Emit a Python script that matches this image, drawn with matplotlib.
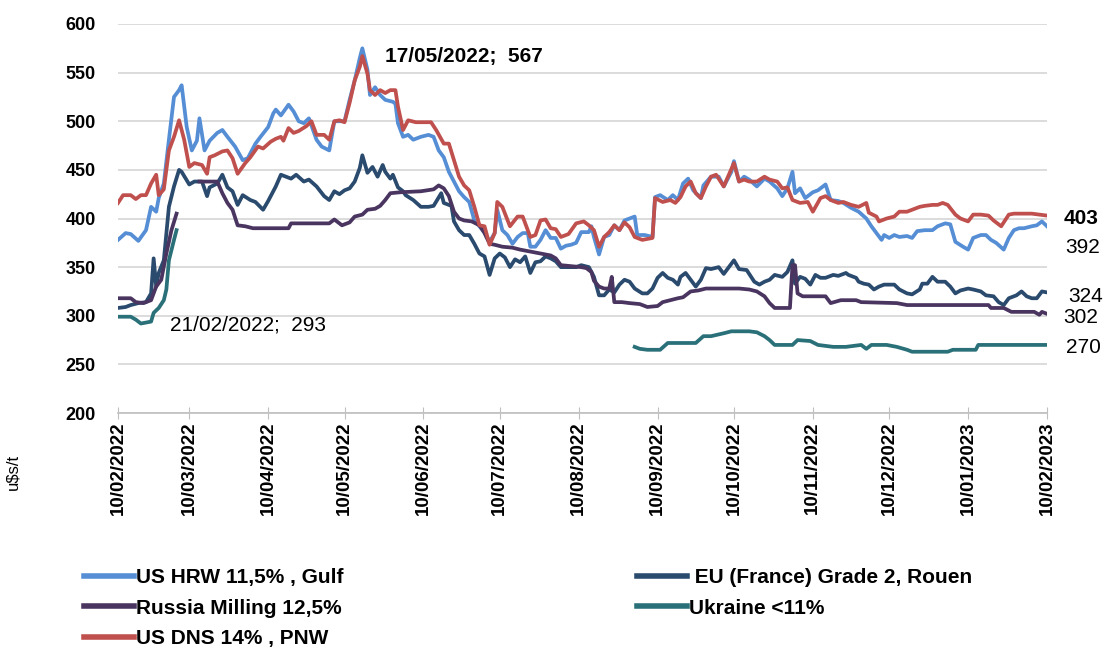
import matplotlib
matplotlib.use("Agg")
import matplotlib.pyplot as plt
import numpy as np
import pandas as pd

plt.rcParams['font.family'] = ['Liberation Sans', 'DejaVu Sans']

# ---- data (u$s/t) ----
hrw_dates = ["2022-02-10", "2022-02-13", "2022-02-15", "2022-02-18", "2022-02-21", "2022-02-23", "2022-02-25", "2022-02-26",
             "2022-02-28", "2022-03-02", "2022-03-04", "2022-03-06", "2022-03-07", "2022-03-09", "2022-03-11", "2022-03-13",
             "2022-03-14", "2022-03-16", "2022-03-18", "2022-03-21", "2022-03-23", "2022-03-25", "2022-03-28", "2022-03-31",
             "2022-04-02", "2022-04-05", "2022-04-07", "2022-04-10", "2022-04-12", "2022-04-13", "2022-04-15", "2022-04-18",
             "2022-04-20", "2022-04-22", "2022-04-24", "2022-04-26", "2022-04-29", "2022-05-01", "2022-05-04", "2022-05-06",
             "2022-05-10", "2022-05-12", "2022-05-14", "2022-05-16", "2022-05-17", "2022-05-19", "2022-05-20", "2022-05-22",
             "2022-05-24", "2022-05-26", "2022-05-29", "2022-05-30", "2022-05-31", "2022-06-02", "2022-06-04", "2022-06-06",
             "2022-06-09", "2022-06-12", "2022-06-14", "2022-06-16", "2022-06-18", "2022-06-20", "2022-06-22", "2022-06-24",
             "2022-06-26", "2022-06-28", "2022-06-30", "2022-07-02", "2022-07-04", "2022-07-06", "2022-07-08", "2022-07-09",
             "2022-07-11", "2022-07-13", "2022-07-15", "2022-07-17", "2022-07-19", "2022-07-21", "2022-07-22", "2022-07-24",
             "2022-07-26", "2022-07-28", "2022-07-30", "2022-08-01", "2022-08-03", "2022-08-05", "2022-08-07", "2022-08-09",
             "2022-08-11", "2022-08-14", "2022-08-15", "2022-08-16", "2022-08-18", "2022-08-20", "2022-08-22", "2022-08-24",
             "2022-08-26", "2022-08-28", "2022-08-30", "2022-09-01", "2022-09-02", "2022-09-05", "2022-09-08", "2022-09-09",
             "2022-09-11", "2022-09-14", "2022-09-16", "2022-09-18", "2022-09-20", "2022-09-22", "2022-09-24", "2022-09-27",
             "2022-09-28", "2022-10-01", "2022-10-04", "2022-10-06", "2022-10-09", "2022-10-10", "2022-10-12", "2022-10-14",
             "2022-10-16", "2022-10-19", "2022-10-22", "2022-10-24", "2022-10-27", "2022-10-29", "2022-10-31", "2022-11-02",
             "2022-11-03", "2022-11-05", "2022-11-07", "2022-11-10", "2022-11-12", "2022-11-15", "2022-11-17", "2022-11-20",
             "2022-11-22", "2022-11-25", "2022-11-28", "2022-12-01", "2022-12-03", "2022-12-05", "2022-12-07", "2022-12-08",
             "2022-12-10", "2022-12-12", "2022-12-14", "2022-12-17", "2022-12-19", "2022-12-21", "2022-12-24", "2022-12-27",
             "2022-12-29", "2023-01-01", "2023-01-03", "2023-01-05", "2023-01-08", "2023-01-10", "2023-01-12", "2023-01-15",
             "2023-01-17", "2023-01-19", "2023-01-21", "2023-01-24", "2023-01-26", "2023-01-28", "2023-01-30", "2023-02-01",
             "2023-02-04", "2023-02-06", "2023-02-08", "2023-02-10"]
hrw_values = [378, 385, 384, 377, 388, 412, 407, 421,
              436, 481, 525, 532, 537, 494, 470, 480,
              503, 470, 480, 488, 491, 484, 474, 460,
              462, 477, 484, 494, 508, 512, 506, 517,
              510, 500, 498, 503, 481, 474, 470, 500,
              500, 522, 542, 565, 575, 553, 527, 535,
              527, 522, 520, 518, 498, 484, 486, 481,
              484, 486, 484, 470, 463, 448, 438, 428,
              422, 417, 398, 392, 386, 376, 385, 409,
              388, 383, 374, 381, 385, 385, 371, 371,
              378, 388, 380, 380, 369, 372, 373, 375,
              386, 386, 392, 381, 363, 381, 383, 393,
              388, 398, 400, 402, 383, 383, 381, 422,
              424, 419, 424, 419, 436, 441, 429, 421,
              434, 443, 443, 433, 448, 459, 438, 443,
              440, 433, 441, 438, 431, 423, 431, 448,
              426, 431, 421, 427, 429, 435, 419, 418,
              416, 411, 407, 400, 392, 385, 378, 383,
              380, 383, 381, 382, 380, 387, 388, 388,
              392, 395, 394, 376, 371, 368, 380, 383,
              383, 378, 375, 368, 380, 388, 390, 390,
              392, 393, 397, 392]

dns_dates = ["2022-02-10", "2022-02-12", "2022-02-15", "2022-02-17", "2022-02-19", "2022-02-21", "2022-02-23", "2022-02-25",
             "2022-02-26", "2022-02-28", "2022-03-02", "2022-03-04", "2022-03-06", "2022-03-08", "2022-03-10", "2022-03-12",
             "2022-03-15", "2022-03-17", "2022-03-18", "2022-03-20", "2022-03-23", "2022-03-25", "2022-03-27", "2022-03-29",
             "2022-04-01", "2022-04-03", "2022-04-06", "2022-04-08", "2022-04-11", "2022-04-13", "2022-04-15", "2022-04-16",
             "2022-04-18", "2022-04-20", "2022-04-22", "2022-04-25", "2022-04-27", "2022-04-29", "2022-05-02", "2022-05-04",
             "2022-05-06", "2022-05-08", "2022-05-10", "2022-05-12", "2022-05-14", "2022-05-16", "2022-05-17", "2022-05-19",
             "2022-05-20", "2022-05-22", "2022-05-24", "2022-05-26", "2022-05-28", "2022-05-30", "2022-05-31", "2022-06-02",
             "2022-06-04", "2022-06-07", "2022-06-11", "2022-06-13", "2022-06-15", "2022-06-18", "2022-06-20", "2022-06-22",
             "2022-06-24", "2022-06-26", "2022-06-28", "2022-06-30", "2022-07-02", "2022-07-04", "2022-07-06", "2022-07-08",
             "2022-07-09", "2022-07-11", "2022-07-14", "2022-07-17", "2022-07-19", "2022-07-22", "2022-07-24", "2022-07-26",
             "2022-07-28", "2022-07-30", "2022-08-01", "2022-08-03", "2022-08-06", "2022-08-09", "2022-08-12", "2022-08-14",
             "2022-08-16", "2022-08-18", "2022-08-20", "2022-08-22", "2022-08-24", "2022-08-26", "2022-08-28", "2022-08-30",
             "2022-09-01", "2022-09-04", "2022-09-08", "2022-09-09", "2022-09-12", "2022-09-15", "2022-09-17", "2022-09-19",
             "2022-09-21", "2022-09-23", "2022-09-25", "2022-09-27", "2022-09-29", "2022-10-01", "2022-10-03", "2022-10-06",
             "2022-10-08", "2022-10-10", "2022-10-12", "2022-10-14", "2022-10-16", "2022-10-19", "2022-10-22", "2022-10-24",
             "2022-10-27", "2022-10-29", "2022-10-31", "2022-11-02", "2022-11-05", "2022-11-08", "2022-11-10", "2022-11-13",
             "2022-11-15", "2022-11-17", "2022-11-20", "2022-11-22", "2022-11-25", "2022-11-28", "2022-12-01", "2022-12-02",
             "2022-12-05", "2022-12-06", "2022-12-09", "2022-12-12", "2022-12-14", "2022-12-17", "2022-12-20", "2022-12-22",
             "2022-12-24", "2022-12-27", "2022-12-29", "2022-12-31", "2023-01-02", "2023-01-05", "2023-01-07", "2023-01-10",
             "2023-01-12", "2023-01-15", "2023-01-18", "2023-01-20", "2023-01-23", "2023-01-26", "2023-01-28", "2023-02-01",
             "2023-02-04", "2023-02-07", "2023-02-10"]
dns_values = [416, 424, 424, 420, 424, 424, 436, 445,
              424, 430, 470, 484, 501, 481, 453, 457,
              455, 446, 463, 465, 469, 470, 462, 446,
              457, 463, 474, 472, 479, 482, 484, 480,
              493, 488, 490, 495, 500, 486, 486, 481,
              500, 501, 499, 519, 542, 556, 567, 549,
              532, 527, 532, 529, 532, 532, 515, 491,
              501, 499, 499, 499, 491, 477, 477, 460,
              443, 434, 429, 412, 393, 392, 373, 385,
              417, 412, 392, 402, 402, 381, 383, 398,
              399, 390, 389, 381, 384, 395, 397, 393,
              388, 371, 381, 386, 393, 388, 396, 391,
              381, 378, 380, 421, 417, 419, 416, 422,
              433, 438, 426, 421, 433, 443, 445, 433,
              445, 457, 438, 440, 438, 438, 443, 440,
              438, 431, 432, 419, 416, 417, 407, 421,
              423, 419, 416, 417, 414, 412, 416, 406,
              402, 397, 400, 402, 407, 407, 410, 412,
              413, 414, 414, 416, 414, 404, 400, 397,
              404, 404, 403, 398, 392, 404, 405, 405,
              405, 404, 403]

eu_dates = ["2022-02-10", "2022-02-13", "2022-02-15", "2022-02-18", "2022-02-21", "2022-02-23", "2022-02-24", "2022-02-25",
            "2022-02-26", "2022-02-28", "2022-03-01", "2022-03-02", "2022-03-04", "2022-03-06", "2022-03-07", "2022-03-10",
            "2022-03-12", "2022-03-15", "2022-03-17", "2022-03-18", "2022-03-21", "2022-03-23", "2022-03-25", "2022-03-27",
            "2022-03-29", "2022-03-31", "2022-04-03", "2022-04-05", "2022-04-08", "2022-04-10", "2022-04-13", "2022-04-15",
            "2022-04-17", "2022-04-19", "2022-04-21", "2022-04-24", "2022-04-26", "2022-04-29", "2022-05-02", "2022-05-04",
            "2022-05-06", "2022-05-08", "2022-05-10", "2022-05-12", "2022-05-14", "2022-05-16", "2022-05-17", "2022-05-19",
            "2022-05-21", "2022-05-23", "2022-05-25", "2022-05-26", "2022-05-28", "2022-05-29", "2022-05-31", "2022-06-02",
            "2022-06-03", "2022-06-06", "2022-06-09", "2022-06-12", "2022-06-14", "2022-06-17", "2022-06-18", "2022-06-21",
            "2022-06-22", "2022-06-24", "2022-06-26", "2022-06-28", "2022-06-30", "2022-07-02", "2022-07-04", "2022-07-06",
            "2022-07-08", "2022-07-10", "2022-07-12", "2022-07-14", "2022-07-16", "2022-07-18", "2022-07-20", "2022-07-22",
            "2022-07-24", "2022-07-26", "2022-07-28", "2022-07-30", "2022-08-01", "2022-08-03", "2022-08-06", "2022-08-09",
            "2022-08-11", "2022-08-14", "2022-08-16", "2022-08-18", "2022-08-20", "2022-08-22", "2022-08-24", "2022-08-26",
            "2022-08-28", "2022-08-30", "2022-09-01", "2022-09-04", "2022-09-06", "2022-09-08", "2022-09-10", "2022-09-12",
            "2022-09-14", "2022-09-16", "2022-09-18", "2022-09-19", "2022-09-21", "2022-09-23", "2022-09-25", "2022-09-27",
            "2022-09-29", "2022-10-01", "2022-10-04", "2022-10-06", "2022-10-08", "2022-10-10", "2022-10-12", "2022-10-15",
            "2022-10-18", "2022-10-20", "2022-10-22", "2022-10-24", "2022-10-26", "2022-10-29", "2022-10-31", "2022-11-02",
            "2022-11-03", "2022-11-05", "2022-11-07", "2022-11-09", "2022-11-11", "2022-11-13", "2022-11-15", "2022-11-18",
            "2022-11-20", "2022-11-23", "2022-11-24", "2022-11-27", "2022-11-28", "2022-11-30", "2022-12-02", "2022-12-04",
            "2022-12-06", "2022-12-08", "2022-12-12", "2022-12-14", "2022-12-17", "2022-12-19", "2022-12-22", "2022-12-23",
            "2022-12-25", "2022-12-27", "2022-12-29", "2023-01-01", "2023-01-03", "2023-01-05", "2023-01-07", "2023-01-10",
            "2023-01-12", "2023-01-15", "2023-01-17", "2023-01-20", "2023-01-22", "2023-01-24", "2023-01-26", "2023-01-29",
            "2023-01-31", "2023-02-02", "2023-02-04", "2023-02-06", "2023-02-08", "2023-02-10"]
eu_values = [308, 309, 311, 313, 314, 323, 359, 330,
             344, 357, 385, 412, 433, 450, 448, 435,
             438, 438, 423, 432, 436, 445, 432, 428,
             414, 424, 419, 417, 409, 418, 433, 445,
             443, 441, 445, 438, 440, 433, 423, 419,
             428, 425, 429, 431, 438, 452, 465, 447,
             453, 443, 455, 448, 441, 445, 432, 428,
             424, 419, 412, 412, 413, 426, 416, 413,
             397, 388, 383, 383, 374, 364, 361, 342,
             359, 364, 360, 350, 358, 355, 361, 344,
             355, 356, 361, 359, 356, 350, 350, 350,
             352, 350, 340, 321, 321, 327, 324, 332,
             337, 335, 328, 323, 323, 328, 339, 344,
             339, 337, 332, 340, 344, 337, 330, 337,
             349, 348, 350, 343, 350, 357, 348, 347,
             335, 332, 335, 337, 342, 340, 345, 357,
             333, 340, 338, 332, 342, 339, 339, 342,
             341, 344, 342, 339, 335, 333, 332, 327,
             330, 332, 332, 327, 323, 322, 327, 333,
             333, 340, 335, 335, 330, 323, 326, 328,
             327, 325, 321, 320, 314, 311, 318, 321,
             325, 320, 318, 318, 325, 324]

# NaN marks the gap where no quotes were published
rus_dates = ["2022-02-10", "2022-02-15", "2022-02-17", "2022-02-20", "2022-02-23", "2022-02-25", "2022-02-27", "2022-03-01",
             "2022-03-03", "2022-03-05", "2022-03-08", "2022-03-14", "2022-03-21", "2022-03-23", "2022-03-25", "2022-03-27",
             "2022-03-29", "2022-04-01", "2022-04-04", "2022-04-18", "2022-04-19", "2022-05-04", "2022-05-06", "2022-05-09",
             "2022-05-12", "2022-05-14", "2022-05-17", "2022-05-19", "2022-05-22", "2022-05-24", "2022-05-26", "2022-05-28",
             "2022-06-01", "2022-06-09", "2022-06-14", "2022-06-16", "2022-06-18", "2022-06-20", "2022-06-22", "2022-06-24",
             "2022-06-26", "2022-06-29", "2022-07-02", "2022-07-04", "2022-07-06", "2022-07-08", "2022-07-11", "2022-07-15",
             "2022-07-18", "2022-07-22", "2022-07-26", "2022-07-30", "2022-08-01", "2022-08-03", "2022-08-07", "2022-08-11",
             "2022-08-13", "2022-08-15", "2022-08-16", "2022-08-18", "2022-08-20", "2022-08-22", "2022-08-23", "2022-08-24",
             "2022-08-27", "2022-08-30", "2022-09-03", "2022-09-06", "2022-09-10", "2022-09-12", "2022-09-15", "2022-09-18",
             "2022-09-20", "2022-09-23", "2022-09-26", "2022-09-29", "2022-10-12", "2022-10-16", "2022-10-19", "2022-10-22",
             "2022-10-24", "2022-10-26", "2022-11-01", "2022-11-02", "2022-11-03", "2022-11-04", "2022-11-06", "2022-11-15",
             "2022-11-17", "2022-11-21", "2022-11-27", "2022-11-29", "2022-12-13", "2022-12-17", "2023-01-18", "2023-01-19",
             "2023-01-24", "2023-01-27", "2023-02-05", "2023-02-07", "2023-02-08", "2023-02-10"]
rus_values = [318, 318, 314, 313, 316, 330, 337, 364,
              388, 405, np.nan, 438, 438, 426, 416, 409,
              393, 392, 390, 390, 395, 395, 399, 393,
              396, 402, 404, 409, 410, 413, 419, 426,
              427, 428, 430, 434, 431, 423, 407, 400,
              398, 397, 393, 385, 374, 373, 371, 370,
              368, 366, 364, 362, 359, 352, 351, 350,
              349, 345, 336, 330, 328, 328, 340, 314,
              314, 313, 312, 309, 310, 314, 316, 318,
              319, 325, 326, 328, 328, 327, 325, 320,
              313, 308, 308, 352, 352, 323, 320, 320,
              313, 316, 316, 314, 313, 311, 311, 308,
              308, 304, 304, 301, 304, 302]

ukr_dates = ["2022-02-10", "2022-02-15", "2022-02-17", "2022-02-19", "2022-02-21", "2022-02-23", "2022-02-24", "2022-02-26",
             "2022-02-28", "2022-03-01", "2022-03-02", "2022-03-04", "2022-03-05", "2022-03-08", "2022-09-01", "2022-09-03",
             "2022-09-06", "2022-09-11", "2022-09-14", "2022-09-25", "2022-09-28", "2022-10-01", "2022-10-06", "2022-10-09",
             "2022-10-16", "2022-10-19", "2022-10-22", "2022-10-24", "2022-10-26", "2022-11-02", "2022-11-04", "2022-11-09",
             "2022-11-12", "2022-11-18", "2022-11-23", "2022-11-29", "2022-12-01", "2022-12-03", "2022-12-09", "2022-12-13",
             "2022-12-17", "2022-12-19", "2023-01-02", "2023-01-04", "2023-01-13", "2023-01-14", "2023-02-10"]
ukr_values = [299, 299, 296, 292, 293, 294, 303, 308,
              316, 327, 357, 378, 388, np.nan, 268, 266,
              265, 265, 272, 272, 279, 279, 282, 284,
              284, 283, 279, 275, 270, 270, 275, 274,
              270, 268, 268, 270, 266, 270, 270, 268,
              265, 263, 263, 265, 265, 270, 270]

series_names = ["US HRW 11,5% , Gulf", " EU (France) Grade 2, Rouen", "Russia Milling 12,5%",
                "Ukraine <11%", "US DNS 14% , PNW"]
tick_labels = ["10/02/2022", "10/03/2022", "10/04/2022", "10/05/2022", "10/06/2022", "10/07/2022", "10/08/2022",
               "10/09/2022", "10/10/2022", "10/11/2022", "10/12/2022", "10/01/2023", "10/02/2023"]

colors = ["#558ED5", "#2A4A6E", "#4A3560", "#2A7079", "#C0504D"]

fig = plt.figure(figsize=(11.05, 6.5), dpi=100)
ax = fig.add_axes([118 / 1105, 1 - 413 / 650, (1047 - 118) / 1105, (413 - 24) / 650])

series = [(hrw_dates, hrw_values), (eu_dates, eu_values), (rus_dates, rus_values),
          (ukr_dates, ukr_values), (dns_dates, dns_values)]
lines = []
for (d, v), name, c in zip(series, series_names, colors):
    ln, = ax.plot(pd.to_datetime(d), v, color=c, lw=2.7, label=name, solid_joinstyle='round')
    lines.append(ln)

tick_pos = pd.to_datetime(tick_labels, format="%d/%m/%Y")
ax.set_xlim(tick_pos[0], tick_pos[-1])
ax.set_ylim(200, 600)
ax.set_xticks(tick_pos)
ax.set_xticklabels(tick_labels, rotation=90, fontsize=13.5, fontweight='bold')
ax.set_yticks(np.arange(200, 601, 50))
ax.tick_params(axis='y', length=0, labelsize=13, pad=16)
for t in ax.get_yticklabels():
    t.set_fontweight('bold')
ax.tick_params(axis='x', direction='inout', length=8, color='#BFBFBF', pad=2)

ax.grid(axis='y', color='#D9D9D9', lw=1.3)
ax.set_axisbelow(True)
for s in ['left', 'top', 'right']:
    ax.spines[s].set_visible(False)
ax.spines['bottom'].set_color('#BFBFBF')
ax.spines['bottom'].set_linewidth(1.2)

fig.text(5 / 1105, 1 - 472 / 650, "u$s/t", rotation=90, fontsize=12, va='center', ha='left')

# annotations
ax.annotate("17/05/2022;  567", xy=(pd.Timestamp("2022-05-17"), 567), xytext=(16, 0),
            textcoords='offset points', fontsize=15, fontweight='bold', va='center')
ax.annotate("21/02/2022;  293", xy=(pd.Timestamp("2022-02-21"), 293), xytext=(17, -2),
            textcoords='offset points', fontsize=15, va='center')

end = pd.Timestamp("2023-02-10")
ax.annotate("403", xy=(end, 403), xytext=(12, -2), textcoords='offset points',
            fontsize=15, fontweight='bold', va='center', annotation_clip=False)
ax.annotate("392", xy=(end, 392), xytext=(13, -15), textcoords='offset points',
            fontsize=15, va='center', annotation_clip=False)
ax.annotate("324", xy=(end, 324), xytext=(15, -3), textcoords='offset points',
            fontsize=15, va='center', annotation_clip=False)
ax.annotate("302", xy=(end, 302), xytext=(12, -3), textcoords='offset points',
            fontsize=15, va='center', annotation_clip=False)
ax.annotate("270", xy=(end, 270), xytext=(14, -2), textcoords='offset points',
            fontsize=15, va='center', annotation_clip=False)

leg_kw = dict(frameon=False, handlelength=2.4, handletextpad=0.1, labelspacing=0.56,
              prop={'size': 15, 'weight': 'bold'}, borderaxespad=0, borderpad=0)
leg1 = fig.legend([lines[0], lines[2], lines[4]], [series_names[0], series_names[2], series_names[4]],
                  loc='upper left', bbox_to_anchor=(84 / 1105, 1 - 568 / 650), **leg_kw)
leg2 = fig.legend([lines[1], lines[3]], [series_names[1], series_names[3]],
                  loc='upper left', bbox_to_anchor=(637 / 1105, 1 - 568 / 650), **leg_kw)
for lg in (leg1, leg2):
    for h in lg.legend_handles:
        h.set_linewidth(4.0)

fig.savefig("out.png", dpi=100)
